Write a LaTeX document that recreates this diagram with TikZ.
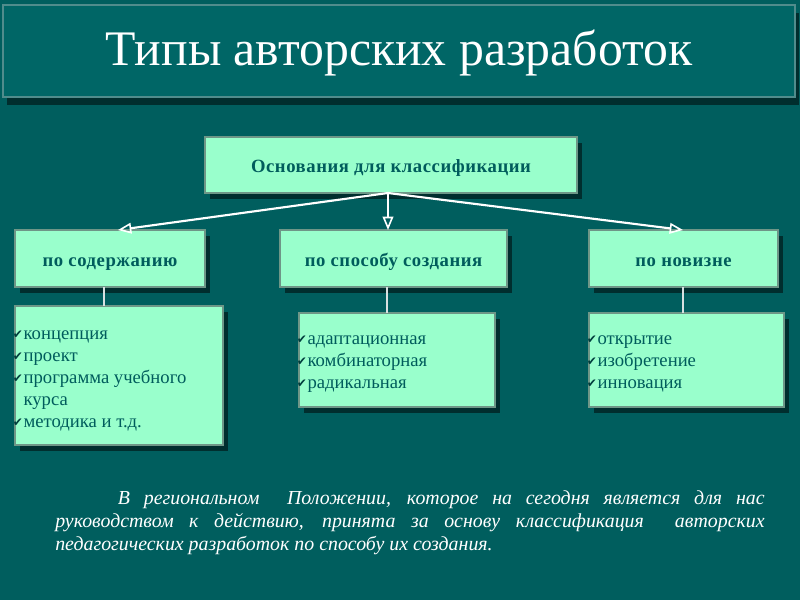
\documentclass[tikz,border=0pt]{standalone}
\usepackage{fontspec}
\setmainfont{Liberation Serif}
\newfontfamily\dejavu{DejaVu Sans}
\usetikzlibrary{arrows.meta,fit,shadows}
\definecolor{bg}{RGB}{0,94,94}
\definecolor{titlebg}{RGB}{0,102,102}
\definecolor{mint}{RGB}{153,255,204}
\definecolor{boxtext}{RGB}{0,92,92}
\definecolor{shadowc}{RGB}{0,38,38}
\definecolor{edgec}{RGB}{110,150,135}
\definecolor{tickc}{RGB}{0,60,60}
\newcommand\tck{\makebox[7pt][l]{\hspace*{-1pt}\raisebox{0.5pt}{\dejavu\fontsize{9}{9}\selectfont\color{tickc}✔}}}
\newcommand\notck{\hspace*{7pt}}
\begin{document}
\begin{tikzpicture}[x=0.75pt,y=-0.75pt,
  mintbox/.style={draw=edgec, line width=0.8pt, fill=mint, inner sep=0pt,
    drop shadow={shadow xshift=4pt, shadow yshift=-4.5pt, fill=shadowc, opacity=0.85}},
  headtext/.style={font=\fontsize{14}{16}\selectfont\bfseries\addfontfeature{LetterSpace=3}, text=boxtext,
    text height=2.5ex, text depth=0ex, inner sep=0pt},
  listtext/.style={font=\fontsize{14}{16.5}\selectfont, text=boxtext, align=left, inner sep=0pt, anchor=north west},
  arr/.style={draw=white, line width=1.6pt, -{Triangle[open, length=10pt, width=8pt, line width=1.2pt]}},
  link/.style={draw={rgb,255:red,215;green,225;blue,225}, line width=1.6pt}]
\useasboundingbox (0,0) rectangle (800,600);
\fill[bg] (0,0) rectangle (800,600);
% title
\node[fit={(3,5)(795,97)}, inner sep=0pt, fill=titlebg, draw={rgb,255:red,80;green,140;blue,140}, line width=0.8pt,
  drop shadow={shadow xshift=3pt, shadow yshift=-6pt, fill=shadowc, opacity=0.85}] (titlebox) {};
\node[text=white, font=\fontsize{37.3}{40}\selectfont] (title) at (399,53) {Типы авторских разработок};
% top box
\node[mintbox, fit={(205,137)(577,193)}] (root) {};
\node[headtext] (roottext) at (root.center) {Основания для классификации};
% category boxes
\node[mintbox, fit={(15,230)(205,287)}] (c1) {};
\node[headtext] (c1text) at (c1.center) {по содержанию};
\node[mintbox, fit={(280,230)(507,287)}] (c2) {};
\node[headtext] (c2text) at (c2.center) {по способу создания};
\node[mintbox, fit={(589,230)(778,287)}] (c3) {};
\node[headtext] (c3text) at (c3.center) {по новизне};
% arrows
\coordinate (rb) at (388,193);
\coordinate (t1) at (118,230);
\coordinate (t2) at (388,230);
\coordinate (t3) at (683,230);
\draw[arr] (rb) -- (t1);
\draw[arr] (rb) -- (t2);
\draw[arr] (rb) -- (t3);
% list boxes
\node[mintbox, fit={(15,306)(223,445)}] (l1) {};
\node[mintbox, fit={(299,313)(495,407)}] (l2) {};
\node[mintbox, fit={(589,313)(784,407)}] (l3) {};
\coordinate (c1b) at (104,287);
\coordinate (l1t) at (104,306);
\coordinate (c2b) at (387,287);
\coordinate (l2t) at (387,313);
\coordinate (c3b) at (683,287);
\coordinate (l3t) at (683,313);
\draw[link] (c1b) -- (l1t);
\draw[link] (c2b) -- (l2t);
\draw[link] (c3b) -- (l3t);
\node[listtext] (l1text) at (14,330) {\tck концепция\\\tck проект\\\tck программа учебного\\\notck курса\\\tck методика и т.д.};
\node[listtext] (l2text) at (298,335) {\tck адаптационная\\\tck комбинаторная\\\tck радикальная};
\node[listtext] (l3text) at (588,335) {\tck открытие\\\tck изобретение\\\tck инновация};
% paragraph
\node[anchor=north west, inner sep=0pt, text=white, text width=532pt, align=justify,
  font=\fontsize{14.9}{17.3}\selectfont\itshape] (para) at (55,490)
  {\hspace*{47pt}В региональном\ \ Положении, которое на сегодня является для нас\linebreak
   руководством к действию, принята за основу классификация\ \ авторских\linebreak
   педагогических разработок по способу их создания.};
\end{tikzpicture}
\end{document}
